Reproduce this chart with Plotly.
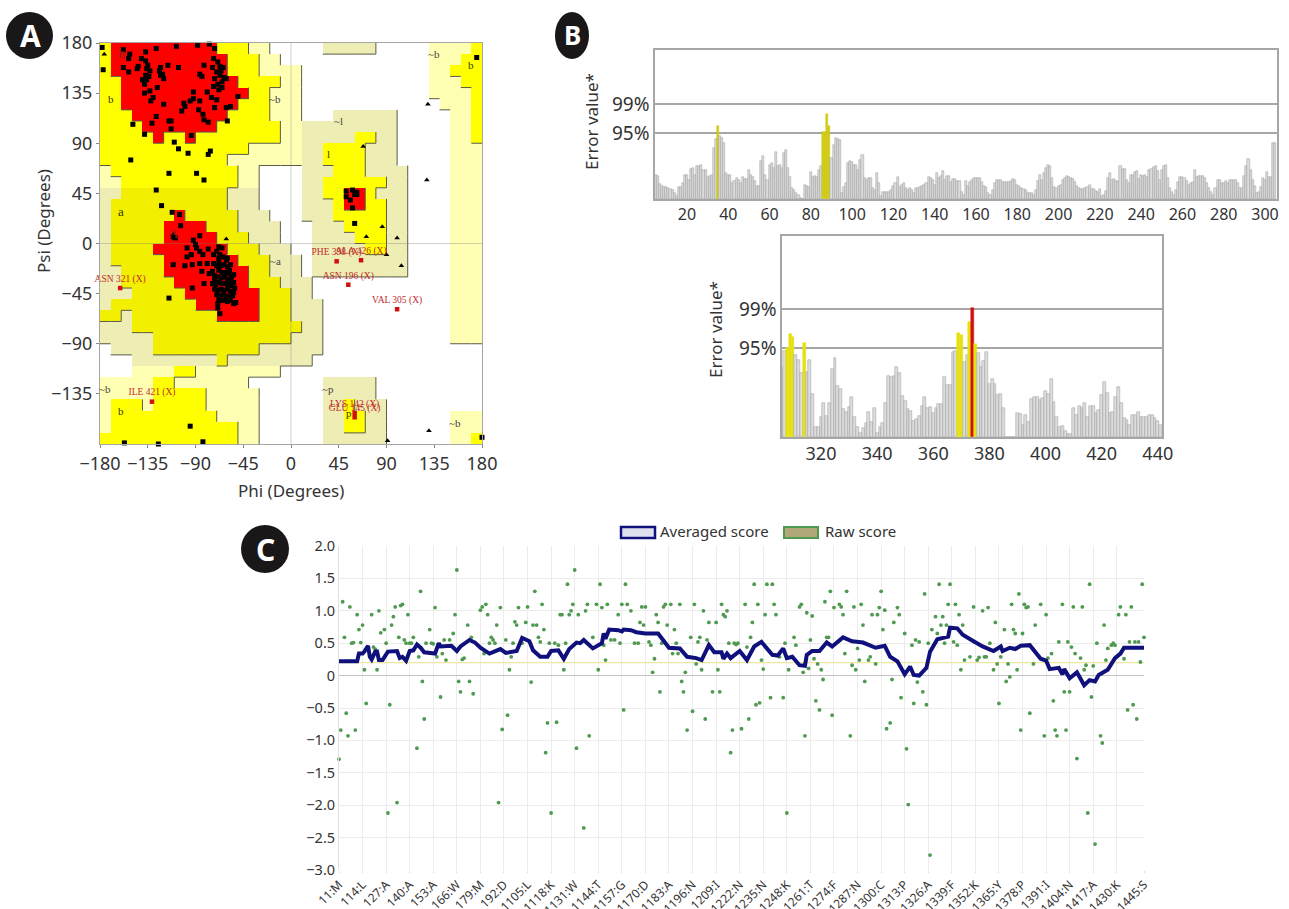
import plotly.graph_objects as go

W, H = 1289, 909
FONT = "Noto Sans"
TXT = "#333333"

# ---------- Panel A: Ramachandran regions, rows from psi=180 down, run-length per 10 degree cell
REGION_ROWS = [
 "Y1 R10 Y3 P2 .5 D5 .5 P4 Y1", "Y1 R11 Y3 P2 .14 P3 Y2", "Y1 R11 Y3 P4 .12 P2 Y3",
 "Y2 R11 Y4 P2 .12 P3 Y2", "Y2 R12 Y2 P3 .12 P4 Y1", "Y2 R11 Y3 P3 .13 P3 Y1",
 "Y3 R9 Y4 P3 .3 D6 .5 P2 Y1", "Y4 R7 Y6 P2 D9 .5 P2 Y1", "Y5 R1 Y2 R1 Y8 P2 D5 Y2 D2 .5 P2 Y1",
 "Y14 P5 D2 Y4 D3 .5 P3", "Y12 P7 D2 Y4 D3 .5 P3", "P1 Y12 P2 .4 D3 Y3 D4 .4 P3",
 "P2 Y11 P2 .4 D2 Y6 D2 .4 P3", "D2 E10 D3 .4 D2 Y2 R2 Y1 D3 .4 P3", "D1 E11 D3 .4 D3 Y1 R2 Y2 D2 .4 P3",
 "D1 E6 R1 E5 D3 .3 D3 Y5 D2 .4 P3", "D1 E5 R4 E3 D4 .3 D3 Y4 D2 .4 P3", "D1 E5 R5 E3 D3 .3 D4 Y3 D2 .4 P3",
 "D1 E4 R7 E3 D3 .2 D5 Y2 D2 .4 P3", "D1 E5 R7 E3 D3 .1 D9 .4 P3", "D2 E4 R8 E2 D3 .1 D9 .4 P3",
 "D2 E5 R7 E3 D3 .13 P3", "D3 E5 R7 E3 D2 .13 P3", "D1 E8 R6 E3 D3 .12 P3",
 "E2 D1 E8 R4 E3 D3 .12 P3", "D3 E16 D2 .12 P3", "D5 E13 D3 .12 P3",
 ".1 D4 E10 D6 .15", ".3 D8 E1 D8 .16", ".3 P4 Y2 P8 .19",
 "P5 Y2 P7 .7 D5 .10", "P5 Y5 P5 .6 D5 .10", "P1 Y3 P1 Y5 P5 .6 D2 Y1 D3 .9",
 "P1 Y10 P4 .6 D2 Y2 D2 .6 P3", "P1 Y12 P2 .6 D2 Y2 D2 .6 P3", "Y13 P2 .6 D6 .6 P2 Y1",
]
REGION_CODES = ".PDEYR"
REGION_COLOURS = ["#ffffff", "#ffffb4", "#eeeeb4", "#f3ef00", "#ffff00", "#ff0000"]
REGION_RANK = {".": 0, "P": 1, "D": 1, "E": 2, "Y": 2, "R": 3}

core_points = [
 (-178,176),(-177,156),(-158,174),(-152,170),(-153,166),(-137,172),(-127,175),(-108,177),(-88,178),(-77,179),
 (-72,175),(-141,166),(-137,164),(-144,159),(-158,158),(-153,154),(-145,157),(-136,157),(-133,155),(-137,151),
 (-140,147),(-136,147),(-138,143),(-126,140),(-133,137),(-138,135),(-130,131),(-132,128),(-123,158),(-123,151),
 (-120,148),(-116,160),(-106,158),(-86,152),(-84,150),(-82,160),(-74,158),(-73,166),(-67,159),(-64,158),
 (-70,154),(-67,151),(-72,148),(-61,148),(-65,145),(-73,141),(-68,138),(-65,140),(-79,136),(-92,136),
 (-92,130),(-95,128),(-86,128),(-75,131),(-70,129),(-101,126),(-100,123),(-120,125),(-103,119),(-87,120),
 (-72,122),(-83,116),(-82,111),(-78,109),(-61,122),(-57,123),(-50,132),(-60,110),(-127,114),(-115,110),
 (-113,110),(-131,108),(-149,107),(-113,103),(-138,98),(-94,97),(-69,163),(-66,155),(-63,149),(-69,143),
 (-134,150),(-135,160),(-124,155),(-121,152),(-110,91),(-106,85),(-97,81),(-76,83),(-78,80),(-151,75),
 (-115,63),(-89,63),(-82,57),(-127,48),(-122,34),(-112,28),(-105,26),(-104,16),(-95,-164),(-157,-179),
 (-125,-180),(-83,-178),(-115,-49),(175,167),(180,-174),(60,18),
 (52,47),(58,48),(62,46),(52,42),(56,39),(60,44),(62,44),(58,32),
 (-111,6),(-109,5),(-92,3),(-86,7),(-98,-4),(-90,-1),(-89,-4),(-86,-7),(-83,-10),(-78,-5),
 (-73,-10),(-68,-3),(-65,-4),(-70,-7),(-67,-10),(-68,-13),(-64,-12),(-61,-15),(-98,-12),(-94,-10),
 (-111,-19),(-100,-20),(-93,-19),(-86,-18),(-79,-18),(-73,-18),(-84,-25),(-82,-36),(-93,-40),(-77,-27),
 (-54,-28),(-57,-19),(-69,-54),(-67,-63),(-69,-58),(-54,-54),(-60,-13),(-70,-20),(-74,-25),(-72,-29),
 (-68,-17),(-66,-20),(-63,-19),(-60,-21),(-58,-24),(-68,-24),(-65,-26),(-62,-26),(-59,-27),(-56,-30),
 (-72,-33),(-69,-30),(-66,-31),(-63,-30),(-60,-32),(-57,-33),(-54,-35),(-74,-36),(-71,-37),(-68,-35),
 (-65,-36),(-62,-36),(-59,-37),(-56,-38),(-53,-40),(-72,-41),(-69,-42),(-66,-41),(-63,-42),(-60,-41),
 (-57,-43),(-54,-44),(-70,-46),(-67,-47),(-64,-46),(-61,-47),(-58,-48),(-55,-47),(-66,-51),(-63,-51),
 (-60,-52),(-57,-51),(-52,-53),(-68,-50),
]
gly_points = [(-176,170),(68,87),(129,125),(128,57),(86,15),(71,6),(100,5),(104,-20),(90,-10),(-61,4),(130,-168),(91,-177),(-111,8)]
outliers = [("ASN 321 (X)",-161,-40),("ILE 421 (X)",-131,-142),("PHE 398 (X)",43,-16),("ALA 426 (X)",66,-15),
            ("ASN 196 (X)",54,-37),("VAL 305 (X)",100,-59),("LYS 142 (X)",60,-152),("GLU 145 (X)",60,-156)]
region_labels = [("B",-160,170,"#8a2020"),("b",-170,130,"#333300"),("a",-160,29,"#333300"),("A",-110,9,"#8a2020"),("~b",-15,130,"#444444"),
                 ("~l",45,110,"#444444"),("l",35,80,"#333300"),("~a",-15,-16,"#444444"),("~p",35,-131,"#444444"),("p",55,-152,"#333300"),
                 ("b",-160,-150,"#333300"),("~b",-175,-131,"#444444"),("~b",135,170,"#444444"),("b",170,160,"#333300"),("~b",155,-161,"#444444")]
phi_ticks = [-180,-135,-90,-45,0,45,90,135,180]
psi_ticks = [-135,-90,-45,0,45,90,135,180]

# ---------- Panel B: ERRAT error values
P95, P99 = 11.86, 17.11
errat_top = [
 4.4,4.2,2.7,2.3,2.1,2.2,1.9,1.8,1.7,1.0, 0.5,2.2,2.2,2.8,4.3,4.4,3.5,5.4,5.5,4.4,
 6.0,6.0,6.2,5.2,5.3,4.0,4.1,4.4,9.2,10.8, 13.1,11.4,11.0,10.0,4.7,4.4,4.4,2.9,3.2,3.7,
 3.5,2.9,4.0,3.6,3.6,5.3,4.3,4.0,3.3,2.4, 2.3,6.8,7.7,4.4,3.5,6.1,6.4,5.6,8.4,5.9,
 6.1,5.5,8.2,8.8,5.6,4.0,1.9,1.6,1.0,0.8, 0.2,0,2.6,2.3,2.1,4.8,4.0,4.2,4.0,5.3,
 5.9,12.1,12.1,15.2,13.2,7.4,9.8,11.0,10.8,10.7, 1.1,2.2,2.9,6.4,6.9,6.7,6.2,6.2,5.3,7.1,
 7.9,3.8,3.5,3.7,3.8,2.0,1.7,4.6,2.9,0.6, 1.3,1.2,1.2,1.2,1.6,2.4,2.9,3.9,2.2,2.5,
 2.9,1.9,1.7,2.0,1.7,1.0,1.9,2.0,2.2,2.4, 2.5,2.8,3.9,3.8,3.5,2.6,4.6,3.8,4.2,5.0,
 3.5,4.2,4.1,3.0,3.6,3.6,3.2,3.2,1.2,0.8, 3.2,2.4,3.1,3.5,3.7,3.7,3.7,3.7,3.1,2.3,
 2.2,1.1,0.7,1.6,2.9,3.4,3.5,3.5,3.0,3.0, 3.0,3.0,3.2,3.6,3.5,2.6,2.4,1.9,1.8,1.6,
 1.1,1.1,1.1,0.7,1.7,3.2,4.4,3.5,4.6,5.6, 6.2,6.0,3.8,2.2,2.0,2.4,2.5,3.5,3.8,4.1,
 4.0,3.8,3.6,3.1,2.4,2.0,1.8,1.8,1.9,2.2, 2.6,1.8,1.8,1.4,1.2,1.8,0.5,0.8,1.4,3.8,
 4.7,3.5,3.6,3.2,3.2,6.0,5.4,5.4,3.5,2.9, 4.3,4.3,4.8,5.0,3.6,4.3,4.1,4.3,4.0,5.2,
 5.4,5.8,5.9,5.0,3.5,5.2,6.0,6.2,3.8,2.0, 1.2,0.8,1.6,3.0,4.0,4.0,3.8,3.2,2.6,2.9,
 3.1,5.2,4.0,4.2,4.1,4.2,3.8,2.9,2.0,1.2, 0.8,2.0,3.4,3.5,2.9,2.8,3.2,2.8,3.4,3.5,
 3.5,3.4,2.8,2.0,2.0,4.2,5.9,7.2,5.3,3.5, 2.4,1.1,1.2,2.2,3.7,3.5,4.9,4.0,4.0,10.0,10.0,
]
errat_top_start = 5
errat_bottom = [
 9.4,11.5,11.9,13.8,13.4,11.0,10.3,8.6,12.5,8.7, 10.3,5.7,1.4,1.4,2.7,4.6,2.8,4.5,9.1,10.6,
 6.8,6.4,3.7,3.3,4.0,5.3,2.7,1.4,0.6,1.2, 1.9,3.4,2.0,3.9,0.5,1.3,1.9,4.5,8.1,8.0,
 8.2,9.4,8.5,5.5,4.8,3.7,3.5,2.2,2.4,2.8, 4.1,5.3,3.9,4.0,3.2,3.9,4.4,4.4,8.0,6.9,
 6.9,11.3,11.5,13.9,13.7,10.0,11.0,15.4,17.2,12.4, 11.2,9.4,10.2,11.3,7.1,7.8,7.1,5.6,5.8,3.9,
 0,0,0,0,3.2,3.1,1.6,2.9,2.0,5.1, 5.3,5.3,4.9,5.2,6.1,5.8,7.7,4.7,2.7,1.3,
 1.5,0.8,0.4,0.4,3.9,2.9,4.1,3.9,4.5,2.7, 4.2,4.2,3.2,3.6,5.6,7.3,5.9,3.2,3.4,5.3,
 6.7,4.5,2.5,2.3,1.6,2.9,2.9,3.3,2.7,2.7, 2.7,2.9,3.0,2.5,2.1,1.6,
]
errat_bottom_start = 306
top_ticks = list(range(20, 301, 20))
bottom_ticks = list(range(320, 441, 20))

# ---------- Panel C: Verify3D scores
raw_scores = [
 (1,-1.29),(2,-.84),(3,1.14),(4,.59),(5,-.58),(6,-.93),(7,1.06),(8,.5),(9,.51),(10,-.84),(11,.94),(12,.71),(13,.51),(14,.78),(15,.09),(16,-.43),
 (19,.94),(20,.44),(21,.41),(22,.09),(23,1.0),(24,.66),(26,.71),(27,.5),(28,-2.12),(29,-.45),(30,.78),(31,.91),(32,1.06),(33,-1.96),(34,.59),(35,1.08),
 (36,1.1),(37,.55),(38,.5),(39,.94),(40,.5),(41,.5),(42,.59),(44,-1.12),(45,.29),(46,1.3),(47,-.09),(48,-.67),(49,.5),(51,.71),(52,.5),(53,.49),(54,1.05),
 (55,.29),(57,-.33),(58,.34),(59,.55),(60,.24),(62,.55),(64,.65),(65,.94),(66,1.63),(67,-.09),(68,-.25),(69,.25),(70,.27),(72,.78),(73,-.09),(74,.59),
 (75,-.28),(79,1.01),(80,1.06),(82,1.1),(83,.94),(81,.34),(84,.5),(85,.59),(86,.55),(87,.5),(88,.78),(89,-1.96),(90,1.05),(91,-.83),(93,.55),(94,-.61),
 (95,.09),(96,.29),(98,.83),(99,.78),(100,1.05),(97,.5),(102,.5),(104,.82),(105,1.06),(107,-.1),(108,.78),(109,1.3),(110,.78),(111,.59),(112,.52),
 (113,1.1),(114,.71),(115,-1.19),(116,-.73),(117,.5),(118,-2.12),(120,.5),(121,-.72),(122,.47),(123,.94),(124,.94),(125,.09),(126,.5),(127,1.41),
 (128,.94),(129,1.0),(130,1.1),(131,1.63),(132,-1.12),(133,.94),(136,-2.35),(137,1.0),(138,1.1),(139,-.93),(141,.59),(143,1.1),(144,.09),(145,1.41),
 (146,1.05),(147,.47),(148,.24),(149,1.1),(151,.55),(153,.55),(155,.94),(156,.5),(157,1.1),(158,-.53),(159,1.41),(160,1.1),(162,1.0),(164,.5),(166,.5),
 (167,.82),(168,1.06),(169,.78),(170,1.06),(172,.52),(173,.47),(174,.05),(175,.26),(176,.94),(177,.82),(178,-.25),(179,.5),(180,1.06),(181,1.1),(182,.78),
 (184,1.1),(185,.34),(186,.71),(187,.5),(188,.34),(189,1.1),(190,-.09),(191,-.25),(192,.05),(193,-.84),(195,.59),(196,-.55),(197,1.1),(198,.18),(199,.52),
 (200,.59),(201,.09),(202,1.0),(203,-.67),(204,.55),(205,.82),(207,-.25),(209,.82),(210,.09),(211,-.25),(212,1.1),(213,.94),(214,.91),(215,1.0),(216,.5),
 (217,-1.19),(218,-.84),(219,.5),(220,.48),(221,.5),(223,-.82),(225,1.1),(226,.44),(227,-.67),(228,.59),(229,.82),(230,1.41),(231,-.45),(232,1.1),
 (233,-.42),(234,.24),(235,.1),(236,.94),(237,1.41),(239,-.34),(240,1.41),(241,1.1),(242,.94),(244,.29),(246,-.34),(247,.5),(248,-2.12),(249,.09),
 (252,.59),(253,.47),(255,1.06),(256,1.1),(257,.05),(258,-.93),(259,.97),(260,.11),(261,.55),(262,.92),(263,.26),(264,-.39),(265,.18),(266,-.53),(267,.09),
 (268,-.06),(269,1.14),(270,.59),(271,.59),(272,1.3),(273,-.61),(274,1.05),(277,1.1),(278,1.06),(279,.94),(280,.34),(281,1.3),(283,-.93),(284,.16),
 (285,1.06),(286,.09),(287,.42),(288,.24),(289,1.1),(290,.78),(291,-.09),(293,.24),(294,.29),(295,.94),(297,.18),(298,.94),(299,1.05),(300,1.3),(301,.71),
 (302,1.01),(303,-.82),(305,-.73),(306,-.06),(307,.82),(309,1.05),(310,.94),(311,-.34),(313,.65),(314,-1.13),(315,-1.99),(317,.47),(318,-.43),(319,.55),
 (320,-.1),(321,.52),(323,-.25),(324,1.26),(325,-.45),(326,.5),(327,-2.77),(328,.71),(330,.91),(331,.65),(332,1.41),(333,.78),(334,.91),(335,.5),(336,.78),
 (337,1.1),(338,1.41),(340,.52),(341,1.1),(342,.47),(343,.94),(344,.09),(345,.78),(346,.24),(349,.29),(351,1.06),(353,.24),(354,.28),(356,1.0),(357,.29),
 (358,.29),(359,1.05),(360,.5),(362,.09),(363,.82),(364,.18),(365,-.43),(366,.29),(368,.71),(369,-.09),(370,.18),(371,-.02),(372,1.1),(373,.71),(374,.65),
 (375,.09),(376,1.26),(377,-.84),(378,.65),(379,1.1),(380,1.05),(381,1.06),(382,-.58),(384,.18),(385,.78),(388,1.1),(390,-.93),(391,.94),(392,.27),(394,.34),
 (395,-.39),(396,-.84),(397,-.93),(398,.52),(400,1.1),(401,-.25),(402,-.84),(403,.52),(404,-.25),(405,.44),(406,1.06),(407,.34),(408,-1.28),(410,.27),
 (411,1.06),(412,.09),(413,.16),(414,-2.12),(415,1.41),(416,-.33),(417,.15),(418,-2.6),(419,.5),(421,-.93),(422,-1.04),(423,.78),(424,.24),(425,.42),
 (427,.47),(428,.5),(429,.47),(431,.94),(432,1.06),(434,.26),(435,.94),(436,-.53),(437,.52),(438,1.06),(439,-.45),(440,.52),(441,-.67),(442,.52),(443,.21),
 (444,1.41),(445,.59),
]
avg_scores = [
 (1,.22),(11,.22),(12,.34),(14,.34),(15,.37),(17,.46),(18,.29),(19,.25),(21,.37),(22,.37),(23,.24),(25,.24),(28,.37),(33,.38),(34.5,.27),(36,.29),(38,.23),
 (40,.38),(42,.39),(44,.48),(46,.43),(48,.36),(54,.34),(56,.5),(57,.45),(63,.46),(66,.38),(68,.45),(73,.55),(76,.51),(79,.43),(84,.34),(90,.41),(93,.35),
 (99,.38),(102,.58),(106,.53),(108,.39),(112,.29),(116,.29),(118,.38),(122,.39),(125,.26),(128,.41),(132,.51),(134,.5),(136,.55),(141,.42),(146,.5),(147,.65),
 (148,.57),(150,.71),(155,.7),(157,.68),(158,.71),(162,.7),(165,.67),(170,.65),(177,.65),(179,.57),(183,.43),(189,.42),(193,.29),(198,.27),(201,.24),(205,.47),
 (208,.36),(212,.36),(213,.26),(215,.34),(217,.27),(222,.38),(226,.24),(230,.45),(234,.52),(240,.32),(243,.31),(246,.42),(248,.27),(251,.29),(255,.16),(258,.15),
 (259,.32),(262,.38),(266,.38),(270,.51),(273,.45),(279,.59),(284,.53),(290,.51),(297,.43),(302,.46),(305,.29),(309,.22),(313,.02),(316,.14),(318,.01),(321,0),
 (325,.12),(327,.37),(331,.56),(337,.6),(338,.74),(342,.73),(345,.63),(351,.53),(356,.45),(362,.38),(366,.45),(367,.38),(371,.43),(374,.41),(377,.46),(382,.47),
 (388,.26),(391,.23),(393,.1),(398,.12),(400,.02),(401,.1),(404,-.04),(408,.05),(412,-.15),(415,-.07),(418,-.09),(420,.01),(425,.09),(429,.27),(432,.34),(434,.43),(445,.43),
]
threshold = 0.2
res_ticks = [1,14,27,40,53,66,79,92,105,118,131,144,157,170,183,196,209,222,235,248,261,274,287,300,313,326,339,352,365,378,391,404,417,430,445]
res_labels = ["11:M","114:L","127:A","140:A","153:A","166:W","179:M","192:D","1105:L","1118:K","1131:W","1144:T","1157:G","1170:D","1183:A","1196:N",
              "1209:I","1222:N","1235:N","1248:K","1261:T","1274:F","1287:N","1300:C","1313:P","1326:A","1339:F","1352:K","1365:Y","1378:P","1391:I","1404:N","1417:A","1430:K","1445:S"]
score_ticks = [2,1.5,1,.5,0,-.5,-1,-1.5,-2,-2.5,-3]
score_labels = ["2.0","1.5","1.0","0.5","0","−0.5","−1.0","−1.5","−2.0","−2.5","−3.0"]


def xdom(a, b): return [a / W, b / W]
def ydom(top, bottom): return [1 - bottom / H, 1 - top / H]
def px(x): return x / W
def py(y): return 1 - y / H


def expand(row):
    cells = []
    for run in row.split():
        cells += [run[0]] * int(run[1:])
    return (cells + ["."] * 36)[:36]


grid = [expand(r) for r in REGION_ROWS]
n = len(REGION_COLOURS)
cs = []
for i, c in enumerate(REGION_COLOURS):
    cs += [[i / n, c], [(i + 1) / n, c]]

fig = go.Figure()
fig.add_trace(go.Heatmap(
    z=[[REGION_CODES.index(c) for c in row] for row in grid],
    x=[-175 + 10 * i for i in range(36)], y=[175 - 10 * j for j in range(36)],
    colorscale=cs, zmin=0, zmax=n, showscale=False, hoverinfo="skip", xaxis="x", yaxis="y"))

# region outlines: the bottom and right edges where the allowed level falls
ex, ey = [], []
for j in range(36):
    for i in range(36):
        lev = REGION_RANK[grid[j][i]]
        left, right = -180 + 10 * i, -170 + 10 * i
        top, bot = 180 - 10 * j, 170 - 10 * j
        if j < 35 and lev > REGION_RANK[grid[j + 1][i]]:
            ex += [left, right, None]; ey += [bot, bot, None]
        if i < 35 and lev > REGION_RANK[grid[j][i + 1]]:
            ex += [right, right, None]; ey += [top, bot, None]
fig.add_trace(go.Scatter(x=ex, y=ey, mode="lines", line=dict(color="#5a5a4a", width=1), hoverinfo="skip", xaxis="x", yaxis="y"))
fig.add_trace(go.Scatter(x=[0, 0], y=[-180, 180], mode="lines", line=dict(color="rgba(120,120,120,0.35)", width=1), hoverinfo="skip"))
fig.add_trace(go.Scatter(x=[-180, 180], y=[0, 0], mode="lines", line=dict(color="rgba(120,120,120,0.35)", width=1), hoverinfo="skip"))

fig.add_trace(go.Scatter(x=[p[0] for p in core_points], y=[p[1] for p in core_points], mode="markers", cliponaxis=False,
                         marker=dict(symbol="square", size=5, color="#000000")))
fig.add_trace(go.Scatter(x=[p[0] for p in gly_points], y=[p[1] for p in gly_points], mode="markers", cliponaxis=False,
                         marker=dict(symbol="triangle-up", size=5, color="#000000")))
fig.add_trace(go.Scatter(x=[p[1] for p in outliers], y=[p[2] for p in outliers], mode="markers+text", cliponaxis=False,
                         text=[p[0] for p in outliers], textposition="top center",
                         textfont=dict(family="Liberation Serif", size=9.5, color="#c02a2a"),
                         marker=dict(symbol="square", size=4.5, color="#d01010")))
for t, x, y, c in region_labels:
    fig.add_annotation(x=x, y=y, text=t, showarrow=False, font=dict(family="Liberation Serif", size=11 if t not in "Aa" else 13, color=c), xref="x", yref="y")


def errat(values, start, xa, ya, yellow):
    xs = list(range(start, start + len(values)))
    cols = ["#d40f0f" if v > P99 else yellow if v > P95 else "#dcdcdc" for v in values]
    edges = ["#d40f0f" if v > P99 else yellow if v > P95 else "#9a9a9a" for v in values]
    fig.add_trace(go.Bar(x=xs, y=values, width=1, marker=dict(color=cols, line=dict(color=edges, width=0.5)), xaxis=xa, yaxis=ya))


errat(errat_top, errat_top_start, "x2", "y2", "#cfcb10")
errat(errat_bottom, errat_bottom_start, "x3", "y3", "#e6e010")

fig.add_trace(go.Scatter(x=[1, 445], y=[threshold, threshold], mode="lines", line=dict(color="#ece7a0", width=1.2), xaxis="x4", yaxis="y4"))
fig.add_trace(go.Scatter(x=[p[0] for p in raw_scores], y=[p[1] for p in raw_scores], mode="markers", cliponaxis=False,
                         marker=dict(size=3.8, color="#4f9a50"), name="Raw score", xaxis="x4", yaxis="y4"))
fig.add_trace(go.Scatter(x=[p[0] for p in avg_scores], y=[p[1] for p in avg_scores], mode="lines",
                         line=dict(color="#10107c", width=4), name="Averaged score", xaxis="x4", yaxis="y4"))

tick_a = dict(family=FONT, size=18, color=TXT)
tick_b = dict(family=FONT, size=19, color=TXT)
frame = "#a6a6a6"
fig.update_layout(
    width=W, height=H, margin=dict(l=0, r=0, t=0, b=0, autoexpand=False), paper_bgcolor="white", plot_bgcolor="white",
    showlegend=False, bargap=0, hovermode=False,
    xaxis=dict(domain=xdom(100, 482), range=[-180, 180], tickvals=phi_ticks, tickfont=tick_a, ticks="outside", ticklen=3,
               tickcolor="#888", showgrid=False, zeroline=False, showline=True, linecolor=frame, mirror=True, anchor="y"),
    yaxis=dict(domain=ydom(43, 444), range=[-180, 180], tickvals=psi_ticks, tickfont=tick_a, ticks="outside", ticklen=3,
               tickcolor="#888", showgrid=False, zeroline=False, showline=True, linecolor=frame, mirror=True, anchor="x"),
    xaxis2=dict(domain=xdom(655, 1277), range=[4.5, 305.8], tickvals=top_ticks, tickfont=dict(family=FONT, size=16, color=TXT),
                showgrid=False, zeroline=False, showline=True, linecolor=frame, linewidth=1.5, mirror=True, anchor="y2", ticks=""),
    yaxis2=dict(domain=ydom(50, 199), range=[0, 26.8], tickvals=[P95, P99], ticktext=["95%", "99%"], tickfont=tick_b,
                showgrid=True, gridcolor=frame, gridwidth=1.5, zeroline=False, showline=True, linecolor=frame, linewidth=1.5, mirror=True, anchor="x2", ticks=""),
    xaxis3=dict(domain=xdom(782, 1162), range=[306.1, 441.5], tickvals=bottom_ticks, tickfont=dict(family=FONT, size=18, color=TXT),
                showgrid=False, zeroline=False, showline=True, linecolor=frame, linewidth=1.5, mirror=True, anchor="y3", ticks=""),
    yaxis3=dict(domain=ydom(236, 437), range=[0, 26.87], tickvals=[P95, P99], ticktext=["95%", "99%"], tickfont=tick_b,
                showgrid=True, gridcolor=frame, gridwidth=1.5, zeroline=False, showline=True, linecolor=frame, linewidth=1.5, mirror=True, anchor="x3", ticks=""),
    xaxis4=dict(domain=xdom(339, 1144), range=[1, 445], tickvals=res_ticks, ticktext=res_labels, tickangle=-45, tickfont=dict(family=FONT, size=12, color=TXT),
                showgrid=True, gridcolor="#ececec", zeroline=False, showline=False, anchor="y4", ticks="outside", ticklen=2, tickcolor="#dddddd"),
    yaxis4=dict(domain=ydom(546, 870), range=[-3, 2], tickvals=score_ticks, ticktext=score_labels, tickfont=dict(family=FONT, size=14.5, color=TXT),
                showgrid=True, gridcolor="#ececec", zeroline=True, zerolinecolor="#c4c4c8", zerolinewidth=1.2, showline=True, linecolor="#e0e0e0", anchor="x4", ticks=""),
)


def note(x, y, text, size=16, color=TXT, angle=0, anchor="center", bold=False):
    fig.add_annotation(x=px(x), y=py(y), xref="paper", yref="paper", text=f"<b>{text}</b>" if bold else text, showarrow=False, textangle=angle,
                       xanchor=anchor, yanchor="middle", font=dict(family=FONT, size=size, color=color))


note(291, 490, "Phi (Degrees)", 17)
note(44, 221, "Psi (Degrees)", 17, angle=-90)
note(591, 122, "Error value*", 17, angle=-90)
note(716, 330, "Error value*", 17, angle=-90)
note(658, 531, "Averaged score", 15, anchor="left")
note(823, 531, "Raw score", 15, anchor="left")

shapes = [
    dict(type="rect", xref="paper", yref="paper", x0=px(621), x1=px(655), y0=py(538), y1=py(527), fillcolor="#dfe0ee", line=dict(color="#10107c", width=2.5)),
    dict(type="rect", xref="paper", yref="paper", x0=px(784), x1=px(818), y0=py(538), y1=py(527), fillcolor="#b0a878", line=dict(color="#4f9a50", width=2)),
    dict(type="circle", xref="paper", yref="paper", x0=px(6), x1=px(53), y0=py(59), y1=py(12), fillcolor="#1a1718", line=dict(width=0)),
    dict(type="circle", xref="paper", yref="paper", x0=px(555), x1=px(589), y0=py(59), y1=py(12), fillcolor="#1a1718", line=dict(width=0)),
    dict(type="circle", xref="paper", yref="paper", x0=px(241), x1=px(289), y0=py(573), y1=py(525), fillcolor="#1a1718", line=dict(width=0)),
]
fig.update_layout(shapes=shapes)
note(30, 35, "A", 30, "#ffffff", bold=True)
note(572, 35, "B", 26, "#ffffff", bold=True)
note(265, 549, "C", 30, "#ffffff", bold=True)

fig.write_html("out.html", config={"displayModeBar": False},
               post_script="document.body.style.margin='0';document.body.style.overflow='hidden';")
